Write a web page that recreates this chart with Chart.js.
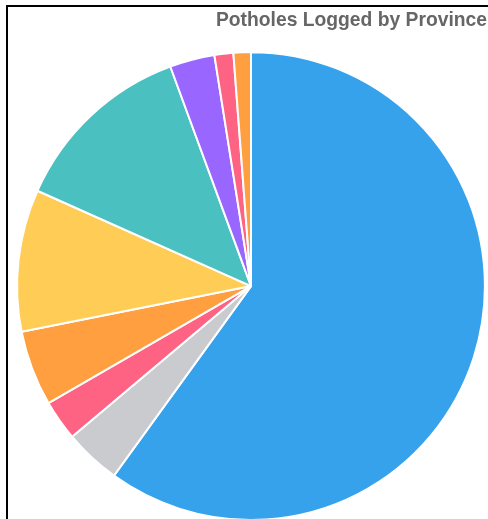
<!DOCTYPE html>
<html>
<head>
<meta charset="utf-8">
<script src="https://cdn.jsdelivr.net/npm/chart.js@4"></script>
<style>
  html, body { margin: 0; padding: 0; background: #fff; overflow: hidden; }
  .frame {
    position: absolute;
    left: 6px;
    top: 5px;
    border-left: 2px solid #000;
    border-top: 2px solid #000;
    width: 520px;
    height: 540px;
  }
  .frame canvas { position: absolute; left: 0; top: 0; }
</style>
</head>
<body>
<div class="frame">
  <canvas id="myChart" width="480" height="514"></canvas>
</div>
<script>
const provinces = [
  "Gauteng",
  "Free State",
  "Northern Cape",
  "Mpumalanga",
  "Eastern Cape",
  "KwaZulu-Natal",
  "Western Cape",
  "North West",
  "Limpopo",
];
const potholes = [599, 39, 28, 52, 98, 127, 31, 13, 12];
const sliceColors = [
  "#36A2EB",
  "#C9CBCF",
  "#FF6384",
  "#FF9F40",
  "#FFCD56",
  "#4BC0C0",
  "#9966FF",
  "#FF6384",
  "#FF9F40",
];

const ctx = document.getElementById("myChart");

new Chart(ctx, {
  type: "pie",
  data: {
    labels: provinces,
    datasets: [
      {
        label: "Potholes",
        data: potholes,
        backgroundColor: sliceColors,
        borderColor: "#fff",
        borderWidth: 2,
      },
    ],
  },
  options: {
    responsive: false,
    animation: false,
    layout: {
      padding: { left: 7, right: 1, top: 0, bottom: 0 },
    },
    plugins: {
      legend: { display: false },
      tooltip: { enabled: false },
      title: {
        display: true,
        text: "Potholes Logged by Province",
        align: "end",
        color: "#666",
        font: { size: 19.3, weight: "bold" },
        padding: { top: 2, bottom: 19 },
      },
    },
  },
});
</script>
</body>
</html>
